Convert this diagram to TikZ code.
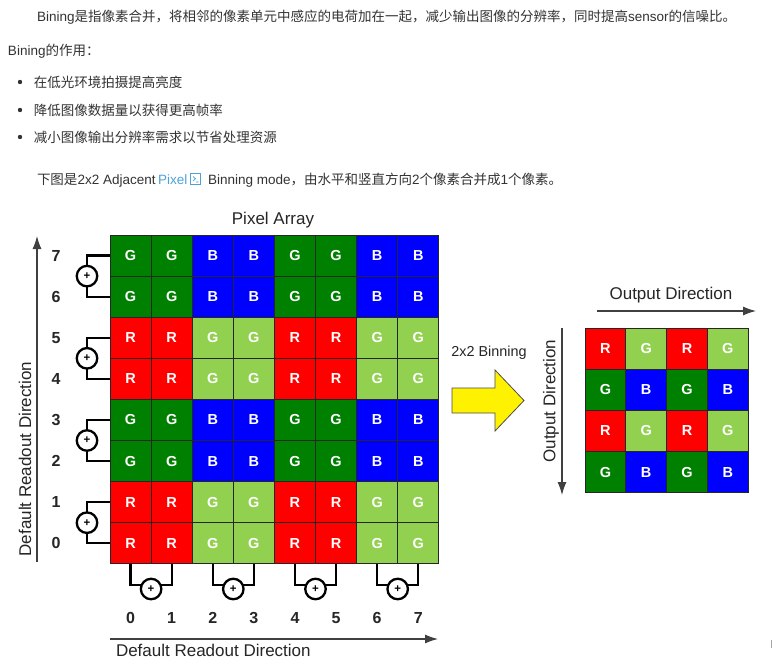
\documentclass[tikz,border=0pt]{standalone}
\usepackage{fontspec}
\setmainfont{Liberation Sans}
\newfontfamily\cjk{Noto Sans CJK SC}
\newcommand\zh[1]{{\cjk #1}}
\usetikzlibrary{arrows.meta}
\definecolor{dg}{RGB}{0,128,0}
\definecolor{lg}{RGB}{146,208,80}
\definecolor{rr}{RGB}{255,0,0}
\definecolor{bb}{RGB}{0,0,255}
\definecolor{txt}{RGB}{51,51,51}
\definecolor{link}{RGB}{78,161,219}
\begin{document}
\begin{tikzpicture}[x=1pt,y=-1pt,
  every node/.style={inner sep=0pt, outer sep=0pt},
  body/.style={text=txt, font=\fontsize{13.5}{16}\selectfont, anchor=base west},
  cell/.style={draw=black!85, line width=0.9pt, minimum width=41.1pt, minimum height=41.1pt, text=white, font=\fontsize{14.5}{14.5}\selectfont\bfseries},
  ocell/.style={cell, minimum width=40.8pt, minimum height=41.2pt},
  num/.style={text=black!85, font=\fontsize{16}{16}\selectfont\bfseries},
  adder/.style={circle, draw=black, line width=2.3pt, minimum size=20.5pt, font=\fontsize{11.5}{11.5}\selectfont\bfseries},
  wire/.style={draw=black, line width=2.2pt},
  dirarrow/.style={draw=black!75, line width=1.1pt, -{Latex[length=13pt,width=9pt]}},
  dirlabel/.style={text=black!85, font=\fontsize{17}{17}\selectfont},
]
\fill[white] (0,0) rectangle (772,664);
\useasboundingbox (0,0) rectangle (772,664);

% ---- text above ----
\node[body] (t1) at (37,21) {Bining\zh{是指像素合并，将相邻的像素单元中感应的电荷加在一起，减少输出图像的分辨率，同时提高}sensor\zh{的信噪比。}};
\node[body] (t2) at (8,55) {Bining\zh{的作用：}};
\node[body] (b1) at (34,87) {\zh{在低光环境拍摄提高亮度}};
\node[body] (b2) at (34,115) {\zh{降低图像数据量以获得更高帧率}};
\node[body] (b3) at (34,142) {\zh{减小图像输出分辨率需求以节省处理资源}};
\fill[txt] (20,82) circle (2.2pt) (20,110) circle (2.2pt) (20,137) circle (2.2pt);
\node[body] (t3a) at (37,184) {\zh{下图是}2x2 Adjacent};
\node[body, text=link] (t3b) at (158,184) {Pixel};
\draw[link, line width=0.7pt] (190.5,173.5) rectangle (200.5,184.5);
\draw[link, line width=0.7pt] (193,176.5) -- (195.5,178.7) -- (193,180.9) (196,182) -- (198.7,182);
\node[body] (t3c) at (208,184) {Binning mode\zh{，由水平和竖直方向}2\zh{个像素合并成}1\zh{个像素。}};

% ---- pixel array ----
\node[dirlabel] (pa) at (273,220) {Pixel Array};
\foreach \k in {0,...,7}{
  \foreach \j in {0,...,7}{
    \pgfmathtruncatemacro\c{2*mod(floor(\k/2),2)+mod(floor(\j/2),2)}
    \ifcase\c \def\cc{dg}\def\lt{G}\or \def\cc{bb}\def\lt{B}\or \def\cc{rr}\def\lt{R}\else \def\cc{lg}\def\lt{G}\fi
    \node[cell, fill=\cc] (p\k\j) at ({110+41.1*(\j+0.5)},{235+41.1*(\k+0.5)}) {\lt};
  }
}
\foreach \k in {0,...,7}{
  \pgfmathtruncatemacro\r{7-\k}
  \node[num] (rl\k) at (56,{235+41.1*(\k+0.5)}) {\r};
}
\foreach \j in {0,...,7}{
  \node[num] (cl\j) at ({110+41.1*(\j+0.5)},618) {\j};
}
\foreach \p in {0,...,3}{
  \pgfmathtruncatemacro\ka{2*\p}
  \pgfmathtruncatemacro\kb{2*\p+1}
  \node[adder] (la\p) at (87,{235+41.1*(2*\p+1)}) {+};
  \draw[wire] (p\ka0.west) -| (la\p.north);
  \draw[wire] (p\kb0.west) -| (la\p.south);
}
\foreach \q in {0,...,3}{
  \pgfmathtruncatemacro\ja{2*\q}
  \pgfmathtruncatemacro\jb{2*\q+1}
  \node[adder] (ba\q) at ({110+41.1*(2*\q+1)},589) {+};
  \draw[wire] (p7\ja.south) |- (ba\q.156);
  \draw[wire] (p7\jb.south) |- (ba\q.24);
}
\coordinate (lvs) at (37,562);
\coordinate (lve) at (37,236);
\draw[dirarrow] (lvs) -- (lve);
\node[dirlabel, rotate=90] (ldr) at (25,459) {Default Readout Direction};
\coordinate (bhs) at (110,639);
\coordinate (bhe) at (438,639);
\draw[dirarrow] (bhs) -- (bhe);
\node[dirlabel, anchor=west] (bdr) at (116,650) {Default Readout Direction};

% ---- binning arrow ----
\node[text=black!85, font=\fontsize{14.4}{14}\selectfont] (bin) at (489,353) {2x2 Binning};
\draw[draw=black!70, fill=yellow, line width=0.8pt] (452,388) -- (495,388) -- (495,370) -- (524,400.5) -- (495,431) -- (495,413) -- (452,413) -- cycle;

% ---- output array ----
\foreach \k in {0,...,3}{
  \foreach \j in {0,...,3}{
    \pgfmathtruncatemacro\c{2*(1-mod(\k,2))+mod(\j,2)}
    \ifcase\c \def\cc{dg}\def\lt{G}\or \def\cc{bb}\def\lt{B}\or \def\cc{rr}\def\lt{R}\else \def\cc{lg}\def\lt{G}\fi
    \node[ocell, fill=\cc] (o\k\j) at ({585+40.8*(\j+0.5)},{328+41.2*(\k+0.5)}) {\lt};
  }
}
\coordinate (ohs) at (597,311);
\coordinate (ohe) at (756,311);
\draw[dirarrow] (ohs) -- (ohe);
\node[dirlabel] (od1) at (671,295) {Output Direction};
\coordinate (ovs) at (562,328);
\coordinate (ove) at (562,495);
\draw[dirarrow] (ovs) -- (ove);
\node[dirlabel, rotate=90] (od2) at (551,401) {Output Direction};

\fill[black!35] (770.5,640) rectangle (771.5,648);
\end{tikzpicture}
\end{document}
